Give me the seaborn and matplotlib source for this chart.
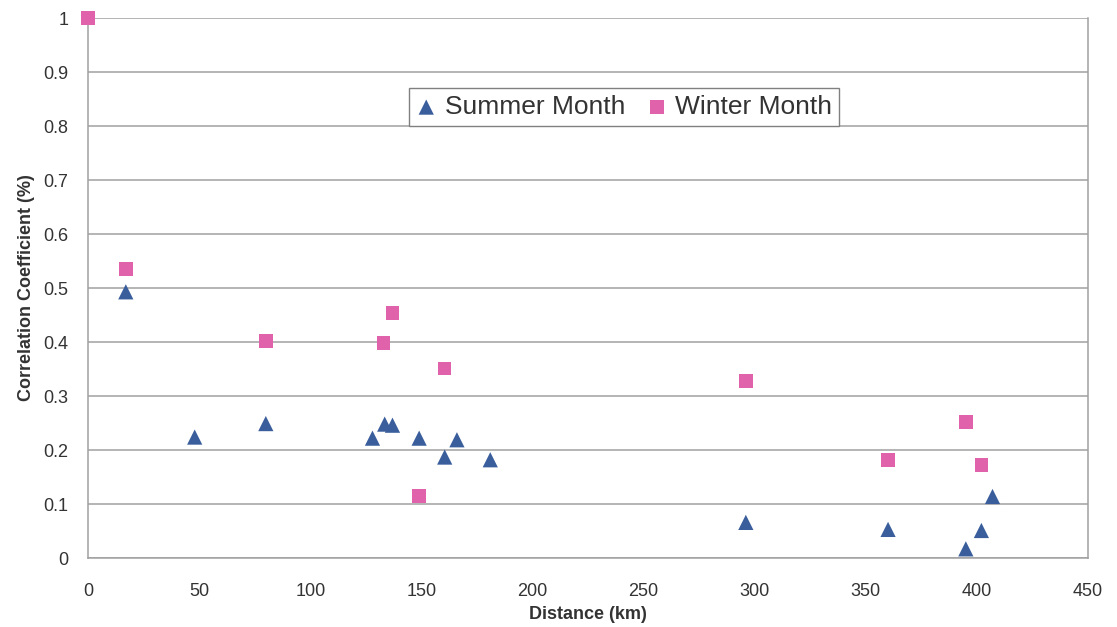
import matplotlib
matplotlib.use("Agg")
import matplotlib.pyplot as plt
import pandas as pd
import seaborn as sns

# values
summer_km = [17, 48, 80, 128, 133.5, 137, 149, 160.5, 166, 181, 296, 360, 395, 402, 407]
summer_r = [0.493, 0.224, 0.249, 0.222, 0.248, 0.246, 0.222, 0.187, 0.219, 0.182,
            0.066, 0.053, 0.017, 0.051, 0.114]
winter_km = [0, 17, 80, 133, 137, 149, 160.5, 296, 360, 395, 402]
winter_r = [1.0, 0.535, 0.402, 0.398, 0.454, 0.115, 0.351, 0.328, 0.182, 0.252, 0.172]

series_names = ["Summer Month", "Winter Month"]
x_ticks = [0, 50, 100, 150, 200, 250, 300, 350, 400, 450]
y_ticks = [0, 0.1, 0.2, 0.3, 0.4, 0.5, 0.6, 0.7, 0.8, 0.9, 1]
y_tick_labels = ["0", "0.1", "0.2", "0.3", "0.4", "0.5", "0.6", "0.7", "0.8", "0.9", "1"]

df = pd.concat([
    pd.DataFrame({"Distance": summer_km, "Corr": summer_r, "Season": series_names[0]}),
    pd.DataFrame({"Distance": winter_km, "Corr": winter_r, "Season": series_names[1]}),
])

sns.set_theme(style="white")
plt.rcParams["font.family"] = ["Liberation Sans", "DejaVu Sans"]

colors = {"Summer Month": "#3a5e9c", "Winter Month": "#df62ab"}
markers = {"Summer Month": "^", "Winter Month": "s"}

fig = plt.figure(figsize=(11.17, 6.27), dpi=100)
ax = fig.add_axes([0.0788, 0.110, 0.8953, 0.8612])

for name in series_names:
    sub = df[df["Season"] == name]
    sns.scatterplot(data=sub, x="Distance", y="Corr", ax=ax, color=colors[name],
                    marker=markers[name], s=120 if name == "Summer Month" else 95,
                    edgecolor="none", label=name, zorder=3, clip_on=False)

ax.set_xlim(0, 450)
ax.set_ylim(0, 1)
ax.set_xticks(x_ticks)
ax.set_yticks(y_ticks)
ax.set_yticklabels(y_tick_labels)
ax.yaxis.grid(True, color="#a0a0a0", lw=1.1)
ax.xaxis.grid(False)
for side in ["left", "bottom", "right"]:
    ax.spines[side].set_color("#a0a0a0")
    ax.spines[side].set_linewidth(1.1)
ax.spines["top"].set_visible(False)
ax.tick_params(axis="both", direction="out", length=5, width=1, color="#a0a0a0",
               labelsize=13, labelcolor="#333333")
ax.tick_params(axis="x", pad=13)
ax.tick_params(axis="y", pad=9)
ax.set_xlabel("Distance (km)", fontsize=13, fontweight="bold", color="#333333", labelpad=4)
ax.set_ylabel("Correlation Coefficient (%)", fontsize=13, fontweight="bold",
              color="#333333", labelpad=6)

handles, labels = ax.get_legend_handles_labels()
ax.legend(handles, labels, ncol=2, loc="center", bbox_to_anchor=(0.5586, 0.8293),
          bbox_transform=fig.transFigure, fontsize=19, frameon=True, fancybox=False,
          edgecolor="#808080", framealpha=1, handletextpad=0.3, columnspacing=0.8,
          handlelength=0.8, borderpad=0.25, labelcolor="#333333")

fig.savefig("out.png", dpi=100)
